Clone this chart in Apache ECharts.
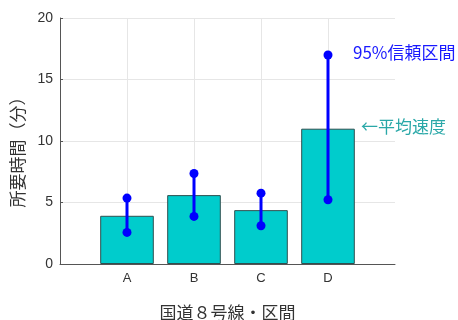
<!DOCTYPE html>
<html>
<head>
<meta charset="utf-8">
<script src="https://cdn.jsdelivr.net/npm/echarts@6/dist/echarts.min.js"></script>
<style>
  html, body { margin: 0; padding: 0; background: #fff; }
  #chart { width: 458px; height: 320px; }
</style>
</head>
<body>
<div id="chart"></div>
<script>
// categories (blank ends give the padding on both sides)
const categories = ['', 'A', 'B', 'C', 'D', '']
const meanTime = [null, 3.92, 5.6, 4.38, 11.0, null]
const ciLow = [null, 2.57, 3.87, 3.11, 5.22, null]
const ciHigh = [null, 5.36, 7.36, 5.76, 16.99, null]
const yTicks = [0, 5, 10, 15, 20]

const font = '"Noto Sans CJK JP", "Noto Sans", sans-serif'

let ciData = []
for (let i = 0; i < categories.length; i++) {
    if (ciLow[i] != null) ciData.push([i, ciLow[i], ciHigh[i]])
}

let option = {
    animation: false,
    grid: {
        left: 60,
        right: 63,
        top: 18,
        bottom: 56,
        outerBoundsMode: 'none'
    },
    xAxis: {
        type: 'category',
        data: categories,
        boundaryGap: false,
        name: '国道８号線・区間',
        nameLocation: 'middle',
        nameGap: 40,
        nameTextStyle: { color: '#333', fontSize: 17, fontFamily: font },
        axisLine: { lineStyle: { color: '#555', width: 1 } },
        axisTick: { show: false },
        axisLabel: { color: '#333', fontSize: 13, margin: 8, fontFamily: 'Liberation Sans, Arial' },
        splitLine: {
            show: true,
            interval: function (index) { return index > 0 && index < categories.length - 1 },
            lineStyle: { color: '#e6e6e6' }
        }
    },
    yAxis: {
        type: 'value',
        min: yTicks[0],
        max: yTicks[yTicks.length - 1],
        interval: 5,
        name: '所要時間（分）',
        nameLocation: 'middle',
        nameGap: 30,
        nameRotate: 90,
        nameTextStyle: { color: '#333', fontSize: 17, fontFamily: font, padding: [0, 14, 0, 0] },
        axisLine: { show: true, lineStyle: { color: '#555', width: 1 } },
        axisTick: { show: true, inside: true, length: 3, lineStyle: { color: '#555' } },
        axisLabel: { color: '#333', fontSize: 14, margin: 7, fontFamily: 'Liberation Sans, Arial' },
        splitLine: { show: true, lineStyle: { color: '#e6e6e6' } }
    },
    series: [
        {
            name: '平均',
            type: 'bar',
            data: meanTime,
            barWidth: '80%',
            itemStyle: { color: '#00cccc', borderColor: '#2f4f4f', borderWidth: 1 }
        },
        {
            name: '95%信頼区間',
            type: 'custom',
            data: ciData,
            z: 10,
            renderItem: function (params, api) {
                let lo = api.coord([api.value(0), api.value(1)])
                let hi = api.coord([api.value(0), api.value(2)])
                return {
                    type: 'group',
                    children: [
                        {
                            type: 'line',
                            shape: { x1: lo[0], y1: lo[1], x2: hi[0], y2: hi[1] },
                            style: { stroke: '#0000ff', lineWidth: 3 }
                        },
                        { type: 'circle', shape: { cx: lo[0], cy: lo[1], r: 4.5 }, style: { fill: '#0000ff' } },
                        { type: 'circle', shape: { cx: hi[0], cy: hi[1], r: 4.5 }, style: { fill: '#0000ff' } }
                    ]
                }
            }
        }
    ],
    graphic: [
        {
            type: 'text',
            left: 353,
            top: 44,
            style: { text: '95%信頼区間', fill: '#1a1aff', fontSize: 17, fontFamily: font }
        },
        {
            type: 'text',
            left: 361,
            top: 118,
            style: { text: '←平均速度', fill: '#2aa8a8', fontSize: 17, fontFamily: font }
        }
    ]
}

let myChart = echarts.init(document.getElementById('chart'))
myChart.setOption(option)
</script>
</body>
</html>
